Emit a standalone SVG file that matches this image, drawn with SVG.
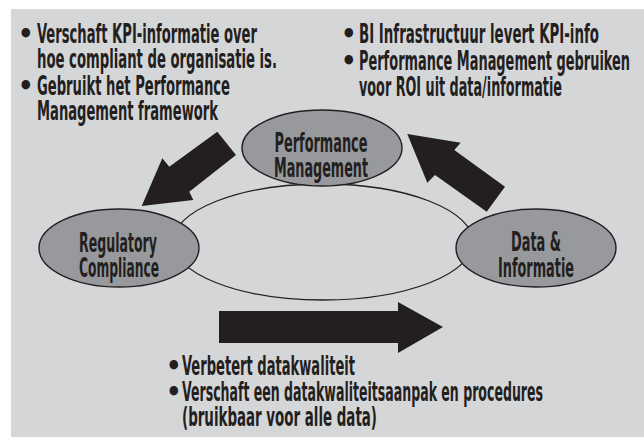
<svg xmlns="http://www.w3.org/2000/svg" width="644" height="437" viewBox="0 0 644 437">
<style>
  .t { font-family: "DejaVu Sans Condensed", "Liberation Sans", sans-serif; font-weight: bold; font-size: 27px; fill: #231f20; }
  .c { text-anchor: middle; }
  .node { fill: #98999c; stroke: #231f20; stroke-width: 1.4; }
  .arrow { fill: #231f20; }
  .cycle { fill: #d5d6d8; stroke: #231f20; stroke-width: 1.3; }
</style>
<rect x="0" y="0" width="644" height="437" fill="#ffffff"/>
<rect x="11" y="9" width="633" height="428" fill="#d5d6d8"/>

<g id="connectors">
  <ellipse class="cycle" cx="323" cy="242" rx="150" ry="58"/>
  <polygon class="arrow" points="217.3,131.7 236,155 189.3,191.7 193.3,200 141.7,206 162.3,158.3 169.3,166.7"/>
  <polygon class="arrow" points="407.3,134 460.7,142.7 454.3,150 505,186.7 486.7,211.7 435,175 427.3,182.7"/>
  <polygon class="arrow" points="219,311 398,311 398,302 443,327 398,353 398,343 219,343"/>
</g>

<g id="performance-management">
  <ellipse class="node" cx="322" cy="148" rx="80" ry="38"/>
  <text class="t c" x="321" y="152" textLength="93" lengthAdjust="spacingAndGlyphs">Performance</text>
  <text class="t c" x="321" y="177" textLength="94" lengthAdjust="spacingAndGlyphs">Management</text>
</g>

<g id="regulatory-compliance">
  <ellipse class="node" cx="119" cy="248" rx="80" ry="39"/>
  <text class="t c" x="118" y="252" textLength="78" lengthAdjust="spacingAndGlyphs">Regulatory</text>
  <text class="t c" x="119" y="277" textLength="80" lengthAdjust="spacingAndGlyphs">Compliance</text>
</g>

<g id="data-informatie">
  <ellipse class="node" cx="536" cy="248" rx="80" ry="39"/>
  <text class="t c" x="536" y="251" textLength="50" lengthAdjust="spacingAndGlyphs">Data &amp;</text>
  <text class="t c" x="536" y="277" textLength="76" lengthAdjust="spacingAndGlyphs">Informatie</text>
</g>

<g id="note-top-left">
  <text class="t" y="43"><tspan x="18">•</tspan><tspan x="37" textLength="220" lengthAdjust="spacingAndGlyphs">Verschaft KPI-informatie over</tspan></text>
  <text class="t" x="37" y="68" textLength="240" lengthAdjust="spacingAndGlyphs">hoe compliant de organisatie is.</text>
  <text class="t" y="95"><tspan x="18">•</tspan><tspan x="37" textLength="193" lengthAdjust="spacingAndGlyphs">Gebruikt het Performance</tspan></text>
  <text class="t" x="37" y="120" textLength="181" lengthAdjust="spacingAndGlyphs">Management framework</text>
</g>

<g id="note-top-right">
  <text class="t" y="43"><tspan x="341">•</tspan><tspan x="359" textLength="240" lengthAdjust="spacingAndGlyphs">BI Infrastructuur levert KPI-info</tspan></text>
  <text class="t" y="70"><tspan x="341">•</tspan><tspan x="359" textLength="271" lengthAdjust="spacingAndGlyphs">Performance Management gebruiken</tspan></text>
  <text class="t" x="359" y="96" textLength="203" lengthAdjust="spacingAndGlyphs">voor ROI uit data/informatie</text>
</g>

<g id="note-bottom">
  <text class="t" y="375"><tspan x="166">•</tspan><tspan x="182" textLength="173" lengthAdjust="spacingAndGlyphs">Verbetert datakwaliteit</tspan></text>
  <text class="t" y="401"><tspan x="166">•</tspan><tspan x="182" textLength="361" lengthAdjust="spacingAndGlyphs">Verschaft een datakwaliteitsaanpak en procedures</tspan></text>
  <text class="t" x="182" y="426" textLength="195" lengthAdjust="spacingAndGlyphs">(bruikbaar voor alle data)</text>
</g>
</svg>
